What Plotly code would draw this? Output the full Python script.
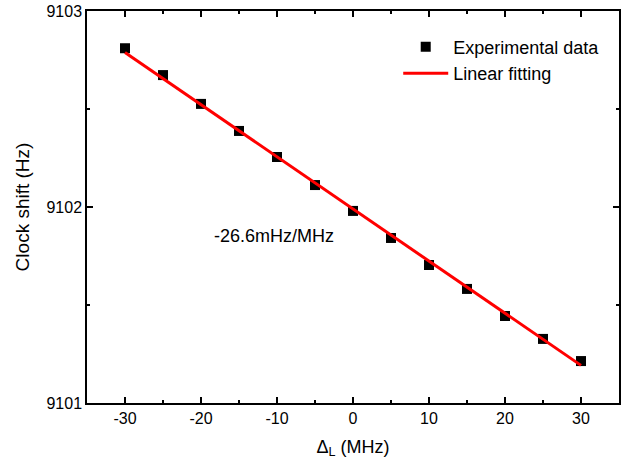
import plotly.graph_objects as go

detuning = [-30, -25, -20, -15, -10, -5, 0, 5, 10, 15, 20, 25, 30]
clock_shift = [9102.81, 9102.673, 9102.526, 9102.388, 9102.255, 9102.112, 9101.98,
               9101.842, 9101.704, 9101.582, 9101.444, 9101.327, 9101.214]
fit_x = [-30, 30]
fit_y = [9102.788, 9101.192]
x_ticks = [-30, -20, -10, 0, 10, 20, 30]
x_tick_labels = ["-30", "-20", "-10", "0", "10", "20", "30"]
y_ticks = [9101, 9102, 9103]
y_tick_labels = ["9101", "9102", "9103"]
slope_label = "-26.6mHz/MHz"

FONT = "Liberation Sans, Arial, sans-serif"

fig = go.Figure()
fig.add_trace(go.Scatter(x=detuning, y=clock_shift, mode="markers", name="Experimental data",
                         marker=dict(symbol="square", size=10, color="black")))
fig.add_trace(go.Scatter(x=fit_x, y=fit_y, mode="lines", name="Linear fitting",
                         line=dict(color="#ff0000", width=3)))

fig.add_annotation(x=-18.55, y=9101.852, text=slope_label, showarrow=False,
                   xanchor="left", yanchor="middle", font=dict(size=18, color="black", family=FONT))

axis_common = dict(showgrid=False, zeroline=False, showline=True, linecolor="black", linewidth=1.5,
                   mirror="ticks", ticks="inside", ticklen=6, tickwidth=1.5, tickcolor="black",
                   automargin=False, ticklabeloverflow="allow",
                   tickfont=dict(size=16, color="black", family=FONT))

fig.update_xaxes(range=[-35, 35], tickmode="array", tickvals=x_ticks, ticktext=x_tick_labels,
                 minor=dict(ticks="inside", tickvals=[-25, -15, -5, 5, 15, 25], ticklen=3,
                            tickwidth=1.5, tickcolor="black"),
                 title=dict(text="Δ<sub>L</sub> (MHz)", font=dict(size=18, color="black", family=FONT),
                            standoff=14),
                 **axis_common)
fig.update_yaxes(range=[9101, 9103], tickmode="array", tickvals=y_ticks, ticktext=y_tick_labels,
                 minor=dict(ticks="inside", tickvals=[9101.5, 9102.5], ticklen=3,
                            tickwidth=1.5, tickcolor="black"),
                 title=dict(text="Clock shift (Hz)", font=dict(size=19, color="black", family=FONT),
                            standoff=12),
                 **axis_common)

fig.update_layout(width=637, height=466, margin=dict(l=87, r=18, t=11, b=63),
                  plot_bgcolor="white", paper_bgcolor="white",
                  font=dict(family=FONT, color="black"),
                  legend=dict(x=0.585, y=0.955, xanchor="left", yanchor="top", itemwidth=45,
                              bgcolor="rgba(0,0,0,0)", font=dict(size=18, color="black", family=FONT),
                              tracegroupgap=0))

fig.write_html("out.html", config={"displayModeBar": False},
               post_script="document.body.style.margin='0';")
